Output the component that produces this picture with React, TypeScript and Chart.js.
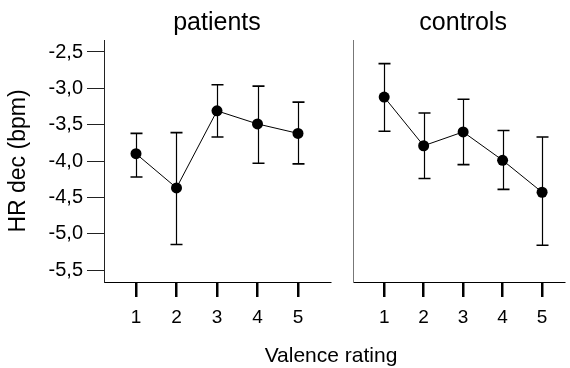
import { useEffect, useRef } from "react";
import { Chart, registerables } from "chart.js";

Chart.register(...registerables);

// Valence rating categories (x axis)
const RATINGS = [1, 2, 3, 4, 5];

// HR deceleration (bpm): means with upper / lower error bar ends
const PATIENTS_MEAN = [-3.9, -4.37, -3.31, -3.49, -3.62];
const PATIENTS_UPPER = [-3.62, -3.61, -2.95, -2.97, -3.19];
const PATIENTS_LOWER = [-4.22, -5.15, -3.67, -4.03, -4.04];

const CONTROLS_MEAN = [-3.12, -3.79, -3.6, -3.99, -4.43];
const CONTROLS_UPPER = [-2.66, -3.34, -3.15, -3.58, -3.67];
const CONTROLS_LOWER = [-3.59, -4.24, -4.05, -4.39, -5.16];

// y axis ticks
const Y_TICKS = [-2.5, -3, -3.5, -4, -4.5, -5, -5.5];

const FONT = "'Liberation Sans', Arial, Helvetica, sans-serif";
const W = 570;
const H = 368;

const fmt = (v: number) => v.toFixed(1).replace(".", ",");

type PanelOpts = {
  title: string;
  mean: number[];
  upper: number[];
  lower: number[];
  withYAxis: boolean;
  padLeft: number;
  padRight: number;
  xMax: number;
  xTitle?: string;
};

const errorBars = {
  id: "errorBars",
  beforeDatasetsDraw(chart: any, _args: any, opts: any) {
    const { ctx } = chart;
    const xs = chart.scales.x;
    const ys = chart.scales.y;
    ctx.save();
    ctx.strokeStyle = "#000";
    const cap = 6;
    opts.upper.forEach((u: number, i: number) => {
      const x = Math.round(xs.getPixelForValue(RATINGS[i])) + 0.5;
      const yU = ys.getPixelForValue(u);
      const yL = ys.getPixelForValue(opts.lower[i]);
      ctx.lineWidth = 1.2;
      ctx.beginPath();
      ctx.moveTo(x, yU);
      ctx.lineTo(x, yL);
      ctx.stroke();
      ctx.lineWidth = 1.6;
      ctx.beginPath();
      ctx.moveTo(x - cap, yU);
      ctx.lineTo(x + cap, yU);
      ctx.moveTo(x - cap, yL);
      ctx.lineTo(x + cap, yL);
      ctx.stroke();
    });
    ctx.restore();
  },
};

const panelText = {
  id: "panelText",
  afterDraw(chart: any, _args: any, opts: any) {
    const { ctx, scales } = chart;
    ctx.save();
    ctx.fillStyle = "#000";
    ctx.textAlign = "center";
    ctx.textBaseline = "alphabetic";
    ctx.font = `25px ${FONT}`;
    ctx.fillText(opts.title, scales.x.getPixelForValue(3), 30);
    if (opts.xTitle) {
      ctx.font = `21px ${FONT}`;
      ctx.fillText(opts.xTitle, 331, 362);
    }
    ctx.restore();
  },
};

function makePanel(canvas: HTMLCanvasElement, o: PanelOpts) {
  return new Chart(canvas, {
    type: "line",
    data: {
      datasets: [
        {
          data: RATINGS.map((r, i) => ({ x: r, y: o.mean[i] })),
          borderColor: "#000",
          borderWidth: 1,
          backgroundColor: "#000",
          pointBackgroundColor: "#000",
          pointBorderColor: "#000",
          pointRadius: 5.5,
          pointBorderWidth: 0,
          tension: 0,
        },
      ],
    },
    options: {
      responsive: false,
      animation: false,
      devicePixelRatio: 1,
      events: [],
      layout: { padding: { left: o.padLeft, right: o.padRight, top: 40, bottom: 0 } },
      plugins: {
        legend: { display: false },
        tooltip: { enabled: false },
        title: { display: false },
        errorBars: { upper: o.upper, lower: o.lower },
        panelText: { title: o.title, xTitle: o.xTitle },
      } as any,
      scales: {
        x: {
          type: "linear",
          min: 0.21,
          max: o.xMax,
          afterFit: (s: any) => {
            s.height = 86;
          },
          afterBuildTicks: (s: any) => {
            s.ticks = RATINGS.map((v) => ({ value: v }));
          },
          border: { display: true, color: "#000", width: 1 },
          grid: {
            drawOnChartArea: false,
            drawTicks: true,
            tickLength: 15,
            color: "#000",
            lineWidth: 2.5,
          },
          ticks: {
            color: "#000",
            padding: 9,
            font: { family: FONT, size: 19 },
            maxRotation: 0,
            callback: (v: any) => String(v),
          },
        },
        y: {
          type: "linear",
          min: -5.665,
          max: -2.335,
          afterFit: (s: any) => {
            s.width = o.withYAxis ? 104 : 0;
          },
          afterBuildTicks: (s: any) => {
            s.ticks = Y_TICKS.map((v) => ({ value: v }));
          },
          border: { display: true, color: o.withYAxis ? "#222" : "#777", width: 1 },
          grid: {
            drawOnChartArea: false,
            drawTicks: o.withYAxis,
            tickLength: 17,
            color: "#222",
            lineWidth: 1,
          },
          title: {
            display: o.withYAxis,
            text: "HR dec (bpm)",
            color: "#000",
            font: { family: FONT, size: 23 },
            padding: { top: 5, bottom: 0 },
          },
          ticks: {
            display: o.withYAxis,
            color: "#000",
            padding: 4,
            font: { family: FONT, size: 20 },
            callback: (v: any) => fmt(Number(v)),
          },
        },
      },
    },
    plugins: [errorBars, panelText],
  });
}

export default function App() {
  const leftRef = useRef<HTMLCanvasElement>(null);
  const rightRef = useRef<HTMLCanvasElement>(null);

  useEffect(() => {
    const left = makePanel(leftRef.current!, {
      title: "patients",
      mean: PATIENTS_MEAN,
      upper: PATIENTS_UPPER,
      lower: PATIENTS_LOWER,
      withYAxis: true,
      padLeft: 0,
      padRight: W - 330,
      xMax: 5.79,
      xTitle: "Valence rating",
    });
    const right = makePanel(rightRef.current!, {
      title: "controls",
      mean: CONTROLS_MEAN,
      upper: CONTROLS_UPPER,
      lower: CONTROLS_LOWER,
      withYAxis: false,
      padLeft: 353,
      padRight: 0,
      xMax: 5.568,
    });
    return () => {
      left.destroy();
      right.destroy();
    };
  }, []);

  const canvasStyle: React.CSSProperties = {
    position: "absolute",
    left: 0,
    top: 0,
    width: W,
    height: H,
  };

  return (
    <div style={{ position: "fixed", left: 0, top: 0, width: W, height: H, background: "#fff" }}>
      <canvas ref={leftRef} width={W} height={H} style={canvasStyle} />
      <canvas ref={rightRef} width={W} height={H} style={canvasStyle} />
    </div>
  );
}
